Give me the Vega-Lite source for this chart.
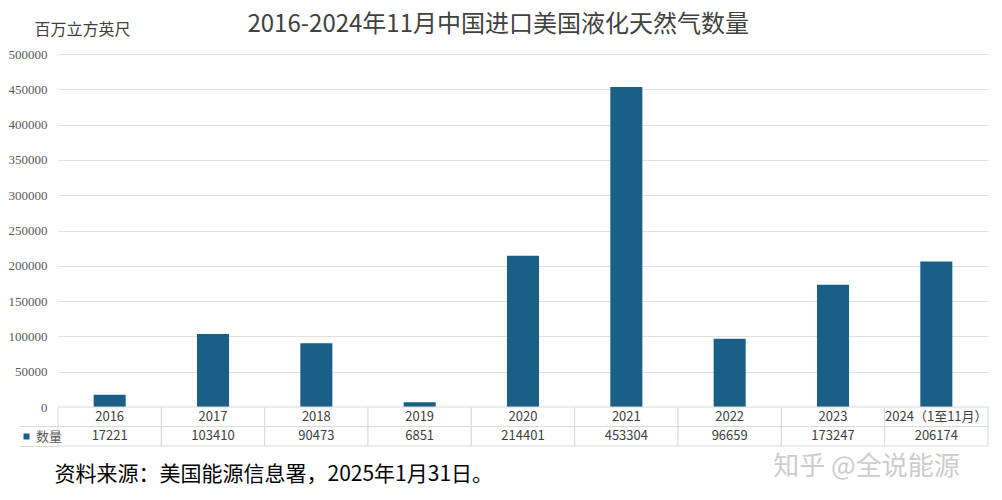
{
  "$schema": "https://vega.github.io/schema/vega-lite/v6.json",
  "background": "white",
  "padding": {"left": 8, "top": 13, "right": 13, "bottom": 5},
  "title": {"text": "2016-2024年11月中国进口美国液化天然气数量", "font": "Noto Sans CJK SC", "fontSize": 24, "fontWeight": "normal", "color": "#404040", "anchor": "middle", "dx": 0, "offset": -16},
  "data": {"values": [
    {"year": "2016", "value": 17221},
    {"year": "2017", "value": 103410},
    {"year": "2018", "value": 90473},
    {"year": "2019", "value": 6851},
    {"year": "2020", "value": 214401},
    {"year": "2021", "value": 453304},
    {"year": "2022", "value": 96659},
    {"year": "2023", "value": 173247},
    {"year": "2024（1至11月）", "value": 206174}
  ]},
  "spacing": 0,
  "bounds": "flush",
  "vconcat": [
    {
      "width": 930,
      "height": 353,
      "mark": {"type": "bar"},
      "encoding": {
        "x": {"field": "year", "type": "nominal", "sort": null,
          "scale": {"paddingInner": 0.69, "paddingOuter": 0.345},
          "axis": {"labels": false, "ticks": false, "domain": false, "grid": false,
            "title": "知乎 @全说能源", "titleX": 808, "titleY": 59, "titleAlign": "center", "titleBaseline": "middle",
            "titleFont": "Noto Sans CJK SC", "titleFontSize": 26, "titleFontWeight": "normal", "titleColor": "#cccccc"}},
        "y": {"field": "value", "type": "quantitative",
          "scale": {"domain": [0, 500000]},
          "axis": {"values": [0, 50000, 100000, 150000, 200000, 250000, 300000, 350000, 400000, 450000, 500000],
            "format": "d", "grid": true, "gridColor": "#e0e0e0", "gridWidth": 1, "domain": false, "ticks": false, "tickSize": 0,
            "labelFont": "Liberation Serif", "labelFontSize": 13, "labelColor": "#595959", "labelPadding": 11,
            "title": "百万立方英尺", "titleAngle": 0, "titleAlign": "left", "titleBaseline": "middle", "titleX": -24, "titleY": -25,
            "titleFont": "Noto Sans CJK SC", "titleFontSize": 16, "titleFontWeight": "normal", "titleColor": "#404040"}},
        "color": {"datum": "数量", "type": "nominal", "scale": {"range": ["#1a5f86"]},
          "legend": {"orient": "none", "legendX": -38, "legendY": 376, "title": null, "symbolType": "square", "symbolSize": 36,
            "labelFont": "Noto Sans CJK SC", "labelFontSize": 13, "labelColor": "#595959", "padding": 0, "labelOffset": 3}}
      }
    },
    {
      "width": 930,
      "height": 39,
      "encoding": {
        "x": {"field": "year", "type": "nominal", "sort": null,
          "scale": {"paddingInner": 0, "paddingOuter": 0},
          "axis": {"labels": false, "ticks": false, "domain": false, "grid": false,
            "title": "资料来源：美国能源信息署，2025年1月31日。", "titleX": -4, "titleY": 28, "titleAlign": "left", "titleBaseline": "middle",
            "titleFont": "Noto Sans CJK SC", "titleFontSize": 21, "titleFontWeight": "normal", "titleColor": "#000000"}}
      },
      "layer": [
        {"mark": {"type": "rect", "fill": "white", "stroke": "#d9d9d9", "strokeWidth": 1},
          "encoding": {"y": {"datum": "年份", "type": "nominal", "scale": {"domain": ["年份", "数量"], "paddingInner": 0, "paddingOuter": 0},
            "axis": {"labels": false, "domain": false, "ticks": true, "tickSize": 39, "tickColor": "#d9d9d9", "bandPosition": 1, "title": null, "grid": false}}}},
        {"mark": {"type": "rect", "fill": "white", "stroke": "#d9d9d9", "strokeWidth": 1},
          "encoding": {"y": {"datum": "数量", "type": "nominal"}}},
        {"mark": {"type": "text", "font": "Noto Sans CJK SC", "fontSize": 13, "color": "#404040"},
          "encoding": {"y": {"datum": "年份", "type": "nominal"}, "text": {"field": "year"}}},
        {"mark": {"type": "text", "font": "Noto Sans CJK SC", "fontSize": 13, "color": "#404040"},
          "encoding": {"y": {"datum": "数量", "type": "nominal"}, "text": {"field": "value", "format": "d"}}}
      ]
    }
  ],
  "config": {"view": {"stroke": null}}
}
